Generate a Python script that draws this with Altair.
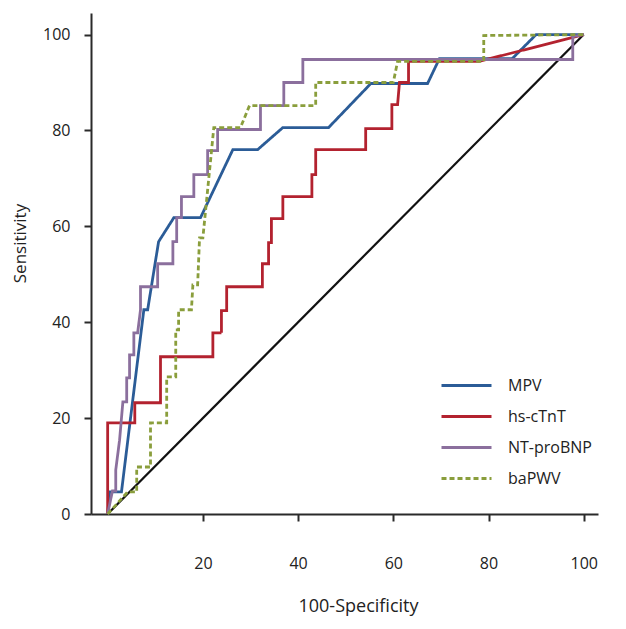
import altair as alt
import pandas as pd

series_names = ["MPV", "hs-cTnT", "NT-proBNP", "baPWV"]
series_colors = ["#2b5c97", "#b3222f", "#8b6f9d", "#8a9e3c"]
series_dash = [[1, 0], [1, 0], [1, 0], [5, 3]]

mpv_x = [0, 0.4, 2.9, 7.6, 8.4, 10.7, 13.9, 19.5, 26.3, 31.5, 36.8, 46.4, 55.3, 67.2, 69.7, 85.0, 90.0, 100]
mpv_y = [0, 4.6, 4.6, 42.6, 42.6, 56.8, 61.8, 61.8, 76.0, 76.0, 80.6, 80.6, 89.8, 89.8, 95.0, 95.0, 100, 100]

tnt_x = [0, 0, 5.7, 5.7, 11.1, 11.1, 22.1, 22.1, 23.9, 23.9, 25.0, 25.0, 32.5, 32.5, 33.8, 33.8,
         34.4, 34.4, 36.8, 36.8, 42.9, 42.9, 43.7, 43.7, 54.2, 54.2, 59.7, 59.7, 60.9, 61.3,
         63.2, 63.2, 78.0, 100]
tnt_y = [0, 19.0, 19.0, 23.2, 23.2, 32.8, 32.8, 37.8, 37.8, 42.4, 42.4, 47.4, 47.4, 52.2, 52.2, 56.6,
         56.6, 61.6, 61.6, 66.2, 66.2, 70.8, 70.8, 76.0, 76.0, 80.4, 80.4, 85.4, 85.4, 90.0,
         90.0, 94.4, 94.4, 100]

bnp_x = [0, 1.0, 1.7, 1.7, 2.5, 3.2, 4.0, 4.0, 4.6, 4.6, 5.5, 5.5, 6.3, 6.9, 6.9, 10.5, 10.5, 13.7,
         13.7, 14.5, 14.5, 15.5, 15.5, 18.1, 18.1, 21.0, 21.0, 23.1, 23.1, 32.1, 32.1, 37.0,
         37.0, 41.0, 41.0, 97.7, 97.7, 100]
bnp_y = [0, 4.8, 4.8, 9.2, 15.4, 23.4, 23.4, 28.4, 28.4, 33.2, 33.2, 37.8, 37.8, 42.6, 47.4, 47.4,
         52.2, 52.2, 56.8, 56.8, 61.8, 61.8, 66.2, 66.2, 70.8, 70.8, 75.8, 75.8, 80.2, 80.2, 85.2,
         85.2, 90.0, 90.0, 94.8, 94.8, 99.6, 100]

pwv_x = [0, 4.2, 6.1, 6.1, 9.0, 9.0, 12.4, 12.4, 14.3, 14.3, 14.9, 14.9, 17.6, 17.9, 18.9, 19.3,
         20.0, 22.3, 27.9, 29.8, 43.7, 43.7, 60.0, 60.9, 79.0, 79.0, 100]
pwv_y = [0, 4.6, 4.6, 9.8, 9.8, 19.0, 19.0, 28.6, 28.6, 38.4, 38.4, 42.6, 42.6, 47.8, 47.8, 57.6,
         57.6, 80.6, 80.6, 85.2, 85.2, 90.0, 90.0, 94.4, 94.4, 99.8, 100]

diag_x = [0, 100]
diag_y = [0, 100]

rows = []
for name, xs, ys in zip(series_names, [mpv_x, tnt_x, bnp_x, pwv_x], [mpv_y, tnt_y, bnp_y, pwv_y]):
    for i, (a, b) in enumerate(zip(xs, ys)):
        rows.append({"series": name, "x": a, "y": b, "i": i})
df = pd.DataFrame(rows)
diag = pd.DataFrame({"x": diag_x, "y": diag_y})

FONT = "Open Sans"

xscale = alt.Scale(domain=[-3.5, 103], nice=False, zero=False)
yscale = alt.Scale(domain=[0, 104.5], nice=False, zero=False)

xaxis = alt.Axis(title="100-Specificity", values=[20, 40, 60, 80, 100], grid=False,
                 tickSize=7, tickWidth=2, domainWidth=2, domainColor="#2a2a2a", tickColor="#2a2a2a",
                 labelPadding=34, titlePadding=26, labelFontSize=16, titleFontSize=18,
                 labelFont=FONT, titleFont=FONT, titleFontWeight="normal", labelColor="#222",
                 titleColor="#222", titleX=267)
yaxis = alt.Axis(title="Sensitivity", values=[0, 20, 40, 60, 80, 100], grid=False,
                 tickSize=7, tickWidth=2, domainWidth=2, domainColor="#2a2a2a", tickColor="#2a2a2a",
                 labelPadding=14, labelFontSize=16, titleFontSize=17,
                 labelFont=FONT, titleFont=FONT, titleFontWeight="normal", labelColor="#222",
                 titleColor="#222", titleX=-71, titleY=230, titleBaseline="middle", titleAlign="center")

diag_layer = alt.Chart(diag).mark_line(color="#111", strokeWidth=2.2).encode(
    x=alt.X("x:Q", scale=xscale, axis=xaxis),
    y=alt.Y("y:Q", scale=yscale, axis=yaxis),
)

legend = alt.Legend(title=None, orient="none", legendX=364, legendY=361, padding=0,
                    symbolType="M-2.5,0H2.5", symbolSize=400, symbolStrokeWidth=3,
                    labelFontSize=16, labelFont=FONT, labelColor="#222", labelOffset=30,
                    rowPadding=11)

curves = alt.Chart(df).mark_line(strokeWidth=2.8).encode(
    x=alt.X("x:Q", scale=xscale, axis=xaxis),
    y=alt.Y("y:Q", scale=yscale, axis=yaxis),
    order=alt.Order("i:Q"),
    color=alt.Color("series:N", scale=alt.Scale(domain=series_names, range=series_colors),
                    legend=legend, sort=series_names),
    strokeDash=alt.StrokeDash("series:N", scale=alt.Scale(domain=series_names, range=series_dash),
                              legend=legend, sort=series_names),
)

chart = alt.layer(diag_layer, curves).properties(
    width=507, height=501,
    autosize=alt.AutoSizeParams(type="none"),
    padding={"left": 83, "top": 5, "right": 10, "bottom": 110},
).configure_view(stroke=None)

chart.save("out.html", embed_options={"renderer": "svg", "actions": False})
